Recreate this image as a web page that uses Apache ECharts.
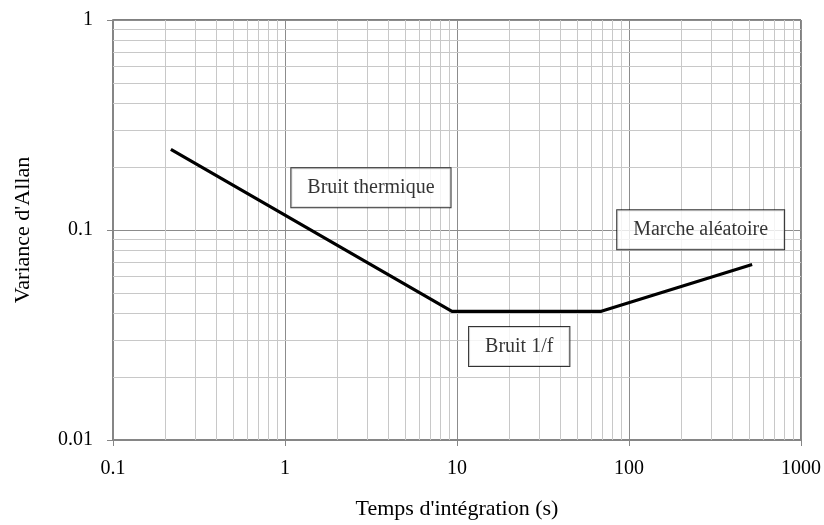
<!DOCTYPE html>
<html>
<head>
<meta charset="utf-8">
<script src="https://cdn.jsdelivr.net/npm/echarts@6/dist/echarts.min.js"></script>
<style>
  html, body { margin: 0; padding: 0; background: #fff; }
  #chart { width: 824px; height: 525px; }
</style>
</head>
<body>
<div id="chart"></div>
<script>
// Allan variance asymptotes (log-log)
const tau = [0.217, 9.35, 69, 520];
const allanVar = [0.242, 0.041, 0.041, 0.0685];

// Axis ticks
const xTicks = [0.1, 1, 10, 100, 1000];
const yTicks = [0.01, 0.1, 1];
const xTickLabels = ['0.1', '1', '10', '100', '1000'];
const yTickLabels = ['0.01', '0.1', '1'];

// Noise regime annotations (anchored in data space)
const noteNames = ['Bruit thermique', 'Bruit 1/f', 'Marche aléatoire'];
const noteX = [3.16, 23.0, 261];
const noteY = [0.159, 0.0279, 0.1002];

const FONT = "'Liberation Serif', 'Times New Roman', serif";

// Minor grid values: 2..9 within each decade
function minorValues(ticks) {
  const out = [];
  for (let i = 0; i < ticks.length - 1; i++) {
    for (let k = 2; k <= 9; k++) out.push(+(ticks[i] * k).toPrecision(6));
  }
  return out;
}
const xMinor = minorValues(xTicks);
const yMinor = minorValues(yTicks);

function tickFormatter(ticks, labels) {
  return function (v) {
    for (let i = 0; i < ticks.length; i++) {
      if (Math.abs(Math.log10(v) - Math.log10(ticks[i])) < 1e-6) return labels[i];
    }
    return '';
  };
}

const chart = echarts.init(document.getElementById('chart'), null, { renderer: 'canvas' });

const minorLines = [];
xMinor.forEach(v => minorLines.push({ xAxis: v }));
yMinor.forEach(v => minorLines.push({ yAxis: v }));

chart.setOption({
  animation: false,
  backgroundColor: '#fff',
  textStyle: { fontFamily: FONT },
  grid: {
    left: 113, right: 23, top: 20, bottom: 83,
    show: true, borderColor: '#000', borderWidth: 1, backgroundColor: 'transparent'
  },
  xAxis: {
    type: 'log', logBase: 10, min: xTicks[0], max: xTicks[xTicks.length - 1],
    name: "Temps d'intégration (s)",
    nameLocation: 'middle', nameGap: 58,
    nameTextStyle: { fontFamily: FONT, fontSize: 22, color: '#000' },
    axisLine: { show: true, onZero: false, lineStyle: { color: '#868686', width: 2 } },
    axisTick: { show: true, length: 6, lineStyle: { color: '#868686', width: 1 } },
    axisLabel: {
      margin: 19, fontFamily: FONT, fontSize: 20, color: '#000',
      formatter: tickFormatter(xTicks, xTickLabels), showMinLabel: true, showMaxLabel: true
    },
    splitLine: { show: true, lineStyle: { color: '#8c8c8c', width: 1 } },
    minorTick: { show: false }, minorSplitLine: { show: false }
  },
  yAxis: {
    type: 'log', logBase: 10, min: yTicks[0], max: yTicks[yTicks.length - 1],
    name: "Variance d'Allan",
    nameLocation: 'middle', nameGap: 79,
    nameTextStyle: { fontFamily: FONT, fontSize: 22, color: '#000' },
    axisLine: { show: true, onZero: false, lineStyle: { color: '#868686', width: 2 } },
    axisTick: { show: true, length: 6, lineStyle: { color: '#868686', width: 1 } },
    axisLabel: {
      margin: 20, fontFamily: FONT, fontSize: 20, color: '#000',
      formatter: tickFormatter(yTicks, yTickLabels), showMinLabel: true, showMaxLabel: true
    },
    splitLine: { show: true, lineStyle: { color: '#8c8c8c', width: 1 } },
    minorTick: { show: false }, minorSplitLine: { show: false }
  },
  series: [
    {
      // minor grid lines, kept beneath the curve
      type: 'line', data: [], z: 1, silent: true,
      markLine: {
        z: 1, silent: true, symbol: 'none', animation: false,
        label: { show: false },
        lineStyle: { color: '#c8c8c8', width: 1, type: 'solid' },
        emphasis: { disabled: true },
        data: minorLines
      }
    },
    {
      type: 'line', z: 10,
      data: tau.map((t, i) => [t, allanVar[i]]),
      symbol: 'none',
      lineStyle: { color: '#000', width: 3.2 },
      itemStyle: { color: '#000' }
    },
    {
      type: 'scatter', z: 12,
      data: noteX.map((x, i) => ({ value: [x, noteY[i]], name: noteNames[i] })),
      symbolSize: 1,
      itemStyle: { color: 'rgba(0,0,0,0)' },
      label: {
        show: true, position: 'inside',
        formatter: p => p.name,
        fontFamily: FONT, fontSize: 20, lineHeight: 20, color: '#000',
        backgroundColor: '#fff', borderColor: '#000', borderWidth: 1,
        padding: [10, 16, 9, 16]
      }
    }
  ]
});
</script>
</body>
</html>
